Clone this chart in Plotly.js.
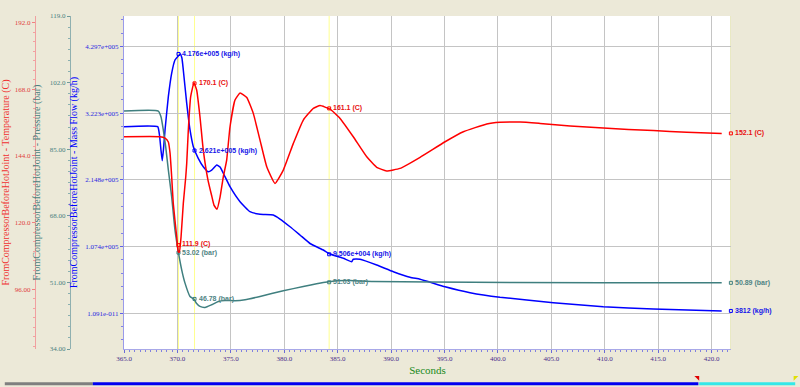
<!DOCTYPE html>
<html>
<head>
<meta charset="utf-8">
<script src="https://cdn.plot.ly/plotly-3.0.1.min.js"></script>
<style>
html,body{margin:0;padding:0;background:#ECE9D8;}
#chart{width:800px;height:387px;}
</style>
</head>
<body>
<div id="chart"></div>
<script>
// ---------- data ----------
const tempTime = [365.00,368.37,368.84,369.15,369.31,369.46,369.61,369.93,370.08,370.18,370.34,370.55,370.78,370.87,371.02,371.24,371.55,371.80,372.11,372.42,372.86,373.21,373.42,373.70,373.99,374.29,374.61,374.92,375.39,375.86,376.49,377.10,377.73,378.36,379.13,379.91,380.85,381.78,382.72,383.35,384.28,385.22,386.46,387.72,388.65,389.58,390.83,392.71,395.05,396.76,398.95,400.19,402.07,403.94,406.75,409.86,414.54,417.67,420.94];
const tempC    = [150.9,150.9,150.4,149.0,145.0,136.7,126.9,114.9,109.5,109.4,114.9,126.9,136.5,141.3,153.3,165.3,170.3,167.7,158.1,146.1,135.3,129.6,126.3,124.8,129.2,136.4,142.5,154.4,164.1,166.6,165.0,159.3,149.7,140.1,134.1,138.9,148.5,156.9,161.1,162.1,160.8,157.5,150.9,143.7,139.9,138.6,139.5,143.5,149.1,152.7,155.5,156.1,156.2,155.7,154.8,154.0,153.1,152.5,152.1];

const pressTime = [365.00,368.21,368.46,368.68,368.90,369.15,369.46,369.77,370.08,370.40,370.71,371.18,371.55,371.80,372.11,372.58,373.21,373.83,374.45,375.39,376.33,377.73,379.91,381.78,383.65,384.91,386.15,388.33,393.64,401.44,418.29,420.94];
const pressBar  = [94.73,94.73,93.28,89.89,85.64,79.70,72.89,64.41,58.88,54.21,50.82,47.41,46.70,45.60,44.86,44.60,45.29,46.13,46.39,46.31,46.57,47.41,48.86,49.95,50.97,51.41,51.48,51.23,51.08,50.97,50.89,50.89];

const massTime = [365.00,368.15,368.32,368.46,368.58,368.69,368.84,369.15,369.46,369.77,370.08,370.26,370.42,370.55,370.87,371.18,371.49,371.95,372.42,372.89,373.21,373.68,373.99,374.45,374.92,375.86,376.79,377.73,378.97,379.60,380.54,381.47,382.41,383.65,384.28,385.53,386.31,386.46,387.09,388.65,390.21,391.77,392.71,395.05,397.39,400.19,405.18,409.86,414.54,420.94];
const massKgh  = [300500,300500,287100,263000,245700,263000,295200,348800,386500,407900,414300,417600,411100,391800,338100,295200,268300,249600,236100,228000,230700,238800,235600,220000,203900,179700,163600,159400,158300,151800,139400,126100,112400,101900,95500,88600,83100,87000,87000,77800,67000,58000,54800,42800,33200,25800,17100,10600,6900,3812];

// cursor read-outs (values printed in the labels)
const cursorTime  = [370.1, 371.6, 384.2, 421.8];
const cursorTemp  = [111.9, 170.1, 161.1, 152.1];
const cursorPress = [53.02, 46.78, 51.03, 50.89];
const cursorMass  = [417600, 262100, 95060, 3812];
// where the pressure cursor box sits on the drawn curve
const cursorPressOnCurve = [58.6, 46.78, 51.03, 50.89];

// tick labels
const xTickVals   = [365,370,375,380,385,390,395,400,405,410,415,420];
const xTickText   = ["365.0","370.0","375.0","380.0","385.0","390.0","395.0","400.0","405.0","410.0","415.0","420.0"];
const tempTickVals  = [96,120,144,168,192];
const tempTickText  = ["96.00","120.0","144.0","168.0","192.0"];
const pressTickVals = [34,51,68,85,102,119];
const pressTickText = ["34.00","51.00","68.00","85.00","102.0","119.0"];
const massTickVals  = [0,107425,214850,322275,429700];
const massTickText  = ["1.091e-011","1.074e+005","2.148e+005","3.223e+005","4.297e+005"];

// ---------- styling ----------
const RED = '#FF0000', TEAL = '#3F7F7F', BLUE = '#0000FF';
const serif = 'Liberation Serif, Times New Roman, serif';
const sans = 'Liberation Sans, Arial, sans-serif';

function fmtMass(v){
  if (v >= 10000){
    const s = v.toExponential(3);
    const m = s.split('e');
    const sign = m[1][0];
    const digits = m[1].slice(1).padStart(3,'0');
    return m[0] + 'e' + sign + digits + ' (kg/h)';
  }
  return Math.round(v) + ' (kg/h)';
}
const fmtTemp = v => v.toFixed(1) + ' (C)';
const fmtPress = v => v.toFixed(2) + ' (bar)';

const traces = [
  {x: pressTime, y: pressBar, yaxis:'y2', type:'scatter', mode:'lines', line:{color:TEAL, width:1.5, shape:'spline', smoothing:0.5}},
  {x: tempTime, y: tempC, yaxis:'y3', type:'scatter', mode:'lines', line:{color:RED, width:1.5, shape:'spline', smoothing:0.4}},
  {x: massTime, y: massKgh, yaxis:'y', type:'scatter', mode:'lines', line:{color:BLUE, width:1.5, shape:'spline', smoothing:0.4}},
  {x: cursorTime, y: cursorTemp, yaxis:'y3', type:'scatter', mode:'markers', cliponaxis:false,
   marker:{symbol:'square-open', size:3, color:RED, line:{width:1}}},
  {x: cursorTime, y: cursorPressOnCurve, yaxis:'y2', type:'scatter', mode:'markers', cliponaxis:false,
   marker:{symbol:'square-open', size:3, color:TEAL, line:{width:1}}},
  {x: cursorTime, y: cursorMass, yaxis:'y', type:'scatter', mode:'markers', cliponaxis:false,
   marker:{symbol:'square-open', size:3, color:BLUE, line:{width:1}}}
];

const annotations = [];
const annFont = c => ({family: sans, size: 7, color: c, weight: 'bold'});
cursorTime.forEach((t,i) => {
  annotations.push({x:t, y:cursorTemp[i], xref:'x', yref:'y3', text:fmtTemp(cursorTemp[i]), showarrow:false, xanchor:'left', xshift:2, yshift:(i===0?1:0), font:annFont('#E81010')});
  annotations.push({x:t, y:cursorPressOnCurve[i], xref:'x', yref:'y2', text:fmtPress(cursorPress[i]), showarrow:false, xanchor:'left', xshift:2, font:annFont('#4F8484')});
  annotations.push({x:t, y:cursorMass[i], xref:'x', yref:'y', text:fmtMass(cursorMass[i]), showarrow:false, xanchor:'left', xshift:2, font:annFont('#1515E8')});
});

const shapes = [];
cursorTime.forEach((t,i) => {
  shapes.push({type:'line', xref:'x', yref:'paper', x0:t, x1:t, y0:0, y1:1,
    line:{color: i===cursorTime.length-1 ? '#DCDCA0' : '#FFFF90', width:1}, layer:'below'});
});
// time slider strip at the bottom
const barY = -0.104;
shapes.push({type:'line', xref:'paper', yref:'paper', x0:0.006, x1:0.116, y0:barY, y1:barY, line:{color:'#7F7F7F', width:3}});
shapes.push({type:'line', xref:'paper', yref:'paper', x0:0.116, x1:0.873, y0:barY, y1:barY, line:{color:'#0000F0', width:3}});
shapes.push({type:'line', xref:'paper', yref:'paper', x0:0.874, x1:0.994, y0:barY, y1:barY, line:{color:'#33E8E8', width:3}});
shapes.push({type:'path', xref:'paper', yref:'paper', path:'M 0.868 -0.081 L 0.874 -0.081 L 0.874 -0.095 Z', fillcolor:'#E00000', line:{width:0}});
shapes.push({type:'path', xref:'paper', yref:'paper', path:'M 0.992 -0.081 L 0.998 -0.081 L 0.992 -0.095 Z', fillcolor:'#E0E000', line:{width:0}});

const layout = {
  width: 800, height: 387,
  margin: {l:0, r:0, t:16, b:38},
  paper_bgcolor: '#ECE9D8',
  plot_bgcolor: '#FFFFFF',
  showlegend: false,
  hovermode: false,
  xaxis: {
    domain: [0.155, 0.91375],
    range: [365, 421.81],
    tickmode: 'array', tickvals: xTickVals, ticktext: xTickText,
    tickfont: {family: serif, size: 7, color:'#4B2D8C'},
    ticks: 'outside', ticklen: 3, tickcolor: '#6A6AD8',
    minor: {dtick: 0.5, tick0: 365, ticklen: 2, tickcolor:'#8080E0', showgrid:false},
    showline: true, linecolor: '#A8A8E8', linewidth: 1,
    showgrid: true, gridcolor: '#C4C4C4', gridwidth: 1,
    zeroline: false,
    title: {text: 'Seconds', font: {family: serif, size: 11, color:'#1A8A1A'}, standoff: 3}
  },
  yaxis: {
    range: [-57480, 478720],
    tickmode: 'array', tickvals: massTickVals, ticktext: massTickText,
    tickfont: {family: serif, size: 7, color:'#2828E0'},
    ticks: 'outside', ticklen: 3, tickcolor: '#6060E8',
    minor: {tickmode:'linear', tick0: 0, dtick: 21485, ticklen: 2, tickcolor:'#8080E8', showgrid:false},
    showline: true, linecolor: '#9A9AEA', linewidth: 1,
    showgrid: true, gridcolor: '#C4C4C4', gridwidth: 1,
    zeroline: false,
    title: {text: 'FromCompressorBeforeHotJoint - Mass Flow (kg/h)', font: {family: serif, size: 10, color: BLUE}, standoff: 5}
  },
  yaxis2: {
    overlaying: 'y', anchor: 'free', position: 0.0875, side: 'left',
    range: [34, 119],
    tickmode: 'array', tickvals: pressTickVals, ticktext: pressTickText,
    tickfont: {family: serif, size: 7, color:'#4A7F7F'},
    ticks: 'outside', ticklen: 3, tickcolor: '#6F9A9A',
    minor: {tickmode:'linear', tick0: 34, dtick: 17/6, ticklen: 2, tickcolor:'#8AAFAF', showgrid:false},
    showline: true, linecolor: '#8FB0B0', linewidth: 1,
    showgrid: false, zeroline: false,
    title: {text: 'FromCompressorBeforeHotJoint - Pressure (bar)', font: {family: serif, size: 10, color: '#4A7F7F'}, standoff: 6}
  },
  yaxis3: {
    overlaying: 'y', anchor: 'free', position: 0.04375, side: 'left',
    range: [74.52, 194.34],
    tickmode: 'array', tickvals: tempTickVals, ticktext: tempTickText,
    tickfont: {family: serif, size: 7, color:'#E04040'},
    ticks: 'outside', ticklen: 3, tickcolor: '#F08080',
    minor: {tickmode:'linear', tick0: 96, dtick: 24/7, ticklen: 2, tickcolor:'#F4A0A0', showgrid:false},
    showline: true, linecolor: '#F0A0A0', linewidth: 1,
    showgrid: false, zeroline: false,
    title: {text: 'FromCompressorBeforeHotJoint - Temperature (C)', font: {family: serif, size: 10, color: '#F03030'}, standoff: 4}
  },
  annotations: annotations,
  shapes: shapes
};

Plotly.newPlot('chart', traces, layout, {displayModeBar:false, staticPlot:true});
</script>
</body>
</html>
